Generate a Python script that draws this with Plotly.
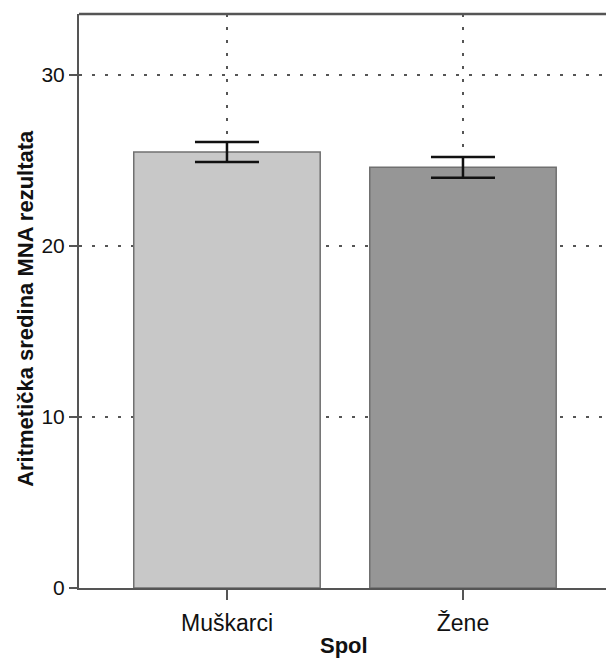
import plotly.graph_objects as go

categories = ["Muškarci", "Žene"]
means = [25.5, 24.6]
errors = [0.58, 0.6]
bar_colors = ["#c8c8c8", "#969696"]
y_ticks = [0, 10, 20, 30]

fig = go.Figure()
fig.add_trace(go.Bar(
    x=categories,
    y=means,
    width=0.79,
    marker=dict(color=bar_colors, line=dict(color="#707070", width=1.5)),
    error_y=dict(type="data", array=errors, visible=True, color="#111111",
                 thickness=2.5, width=32),
    showlegend=False,
))

fig.update_layout(
    width=606, height=661,
    margin=dict(l=79, r=0, t=14, b=73),
    paper_bgcolor="white", plot_bgcolor="white",
    font=dict(family="Liberation Sans, Arial, sans-serif", color="#111111"),
    xaxis=dict(
        type="category",
        range=[-0.627, 1.606],
        showline=True, linecolor="#555555", linewidth=2,
        ticks="outside", ticklen=10, tickwidth=2, tickcolor="#555555",
        tickfont=dict(size=23), ticklabelstandoff=3,
        showgrid=True, gridcolor="#555555", gridwidth=2, griddash="3px,10px",
        zeroline=False,
    ),
    yaxis=dict(
        range=[0, 33.57],
        tickvals=y_ticks,
        showline=True, linecolor="#555555", linewidth=2,
        ticks="outside", ticklen=8, tickwidth=2, tickcolor="#555555",
        tickfont=dict(size=21),
        showgrid=True, gridcolor="#555555", gridwidth=2, griddash="3px,10px",
        zeroline=False,
    ),
    shapes=[dict(type="line", xref="paper", yref="paper", x0=0, x1=1.01, y0=1, y1=1,
                 line=dict(color="#555555", width=2.5))],
    annotations=[
        dict(text="<b>Aritmetička sredina MNA rezultata</b>", textangle=-90,
             xref="paper", yref="paper", x=-0.1006, y=0.488,
             xanchor="center", yanchor="middle", showarrow=False,
             font=dict(size=22, color="#111111")),
        dict(text="<b>Spol</b>", xref="paper", yref="paper",
             x=(344 - 79) / 527, y=(588 - 645) / 574,
             xanchor="center", yanchor="middle", showarrow=False,
             font=dict(size=22, color="#111111")),
    ],
)

fig.write_html(
    "out.html",
    config={"displayModeBar": False},
    post_script="document.body.style.margin='0';document.body.style.overflow='hidden';",
)
